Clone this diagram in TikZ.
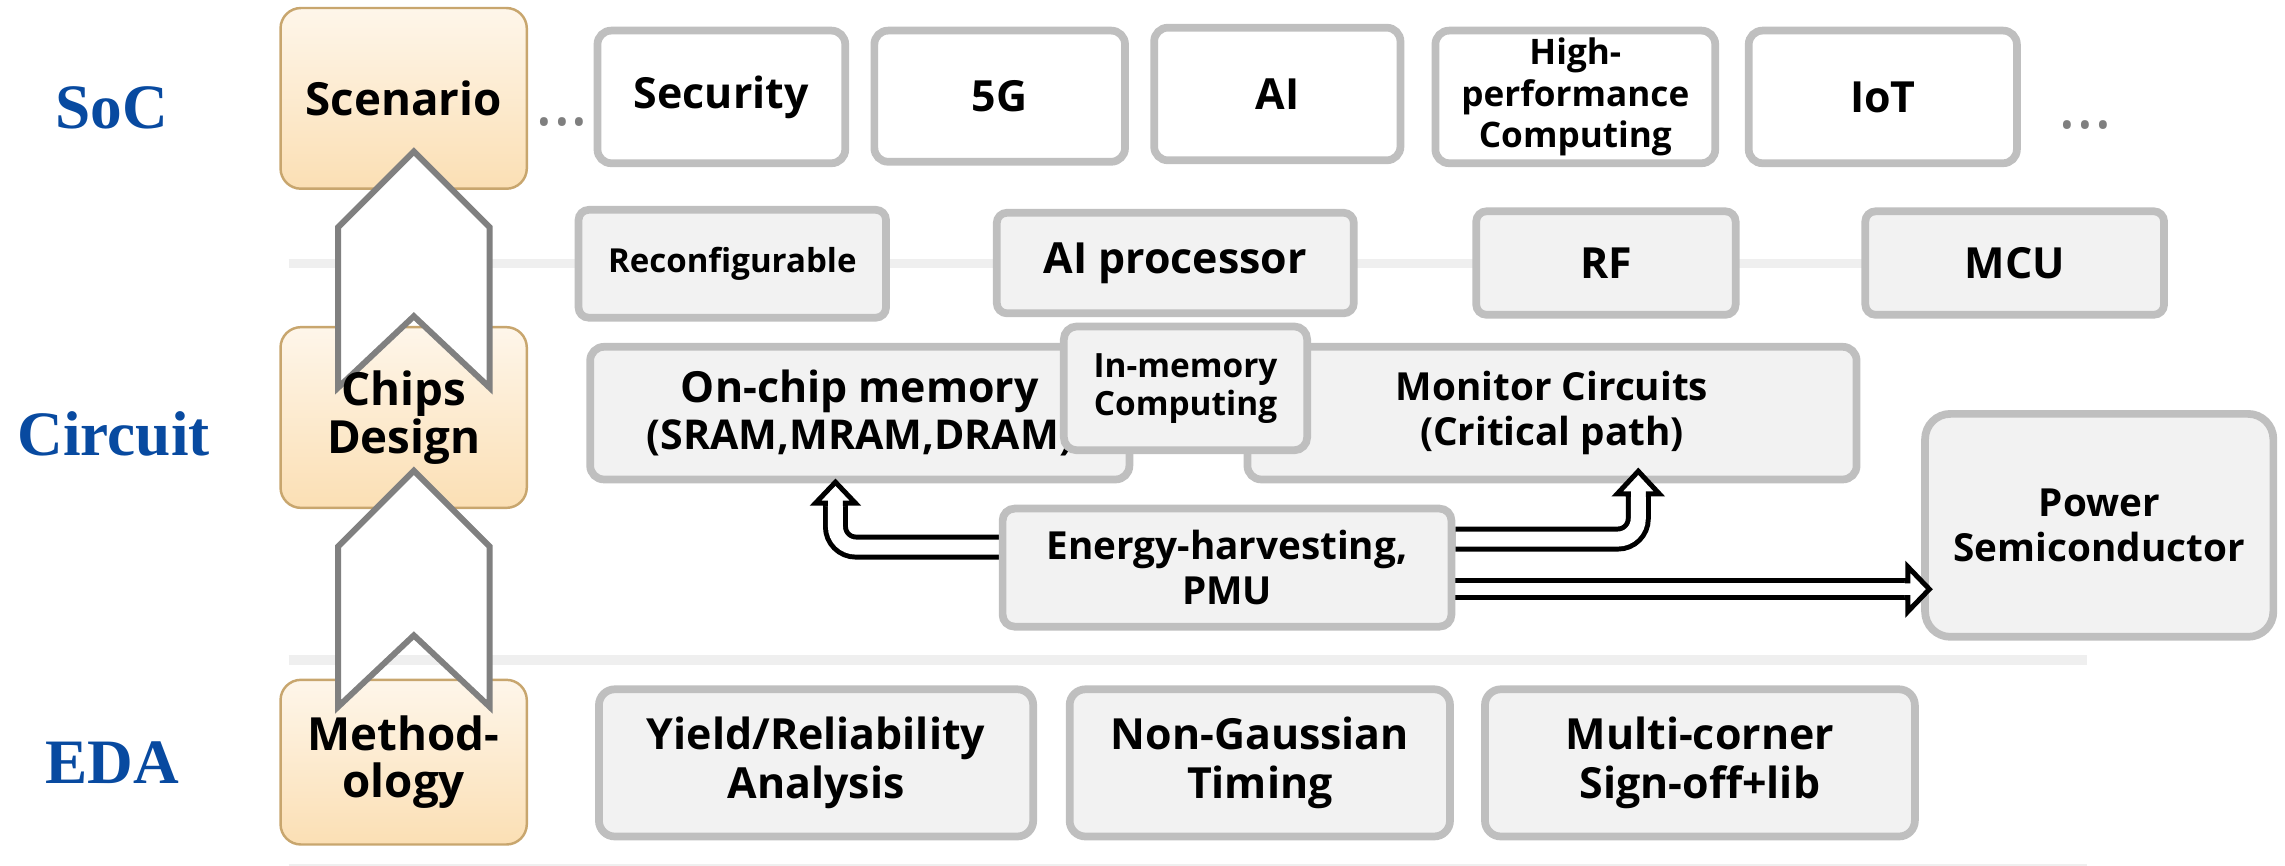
\documentclass[tikz,border=0pt]{standalone}
\usepackage{fontspec}
\setmainfont{Open Sans}
\newfontfamily\serifbold{Liberation Serif}
\usetikzlibrary{fit,calc}
\definecolor{boxgray}{HTML}{BFBFBF}
\definecolor{boxfill}{HTML}{F2F2F2}
\definecolor{sepgray}{HTML}{EFEFEF}
\definecolor{arrgray}{HTML}{808080}
\definecolor{orTop}{HTML}{FEF6EA}
\definecolor{orBot}{HTML}{FBDFB4}
\definecolor{orEdge}{HTML}{C8A66E}
\definecolor{lblblue}{RGB}{8,74,160}
\definecolor{dotgray}{HTML}{7F7F7F}
\pgfdeclarelayer{top}
\pgfsetlayers{main,top}
\tikzset{
  sepline/.style={draw=sepgray, line width=#1},
  obox/.style={draw=orEdge, line width=0.7pt, top color=orTop, bottom color=orBot, rounded corners=5.8pt, inner sep=0pt},
  chev/.style={draw=arrgray, fill=white, line width=1.7pt, line join=miter},
  gbox/.style={draw=boxgray, line width=2.2pt, fill=boxfill, inner sep=0pt},
  fora/.style={font=\fontsize{13}{13.3}\selectfont\bfseries, align=center},
  fbig/.style={font=\fontsize{12.2}{13.3}\selectfont\bfseries, align=center},
  frow/.style={font=\fontsize{12.2}{14.2}\selectfont\bfseries, align=center},
  fmid/.style={font=\fontsize{11}{12.7}\selectfont\bfseries, align=center},
  fhpc/.style={font=\fontsize{10}{11.8}\selectfont\bfseries, align=center},
  frec/.style={font=\fontsize{9.4}{11}\selectfont\bfseries, align=center},
  fimc/.style={font=\fontsize{9.5}{10.8}\selectfont\bfseries, align=center},
  fmem/.style={font=\fontsize{11.7}{13.3}\selectfont\bfseries, align=center},
  fpow/.style={font=\fontsize{11}{13}\selectfont\bfseries, align=center},
  lbl/.style={font=\fontsize{18}{20}\selectfont\serifbold\bfseries, text=lblblue, inner sep=0pt},
  shaft/.style={draw=black, line width=1.41pt, double=white, double distance=#1, rounded corners=5.8pt},
  hollow/.style={draw=black, fill=white, line width=1.41pt, line join=miter},
  pics/hhead/.style n args={3}{code={\draw[hollow] (-2,#1) -- (0,#1) -- (0,#2) -- (#3,0) -- (0,-#2) -- (0,-#1) -- (-2,-#1);}},
  dotsnode/.style={font=\fontsize{19}{20}\selectfont, text=dotgray, inner sep=0pt}
}
\begin{document}
\begin{tikzpicture}[x=0.014573cm,y=-0.014573cm]
\useasboundingbox (0,0) rectangle (1568,594);

% separator lines
\draw[sepline=2.5pt] (198,181) -- (1432,181);
\draw[sepline=2.9pt] (198,453) -- (1432,453);
\draw[sepline=2.5pt] (198,596) -- (1432,596);

% layer labels
\node[lbl] (socL) at (76.5,74) {SoC};
\node[lbl] (cirL) at (78,298) {Circuit};
\node[lbl] (edaL) at (77,523.5) {EDA};

% orange boxes
\node[obox, fit={(192.5,5.5) (361.5,129.5)}] (scen) {};
\node[obox, fit={(192.5,224.5) (361.5,348.5)}] (chips) {};
\node[obox, fit={(192.5,466.5) (361.5,579.5)}] (meth) {};

% chevron arrows
\draw[chev] (284,104) -- (336,156) -- (336,266) -- (284,217) -- (232,266) -- (232,156) -- cycle;
\draw[chev] (284,323) -- (336,375) -- (336,485) -- (284,436) -- (232,485) -- (232,375) -- cycle;

\node[fora] (scenT) at (scen) {Scenario};
\node[fora, font=\fontsize{13}{13.5}\selectfont\bfseries] (chipsT) at (chips) {Chips\\Design};
\node[fora, font=\fontsize{13}{13.5}\selectfont\bfseries] (methT) at (meth) {Method-\\ology};

% dots
\node[dotsnode] (dotsL) at (385.6,83.5) {...};
\node[dotsnode] (dotsR) at (1431,86) {...};

% row 1: scenarios
\node[gbox, fill=white, rounded corners=3.9pt, fit={(410,21) (580,112)}, label={[fbig]center:Security}] (sec) {};
\node[gbox, fill=white, rounded corners=3.9pt, fit={(600,21) (772,111)}, label={[fbig]center:5G}] (g5) {};
\node[gbox, fill=white, rounded corners=3.9pt, fit={(792,19) (961,110)}, label={[fbig]center:AI}] (ai) {};
\node[gbox, fill=white, rounded corners=3.9pt, fit={(985,21) (1177,112)}, label={[fhpc]center:{High-\\performance\\Computing}}] (hpc) {};
\node[gbox, fill=white, rounded corners=3.9pt, fit={(1200,21) (1384,112)}, label={[fbig]center:IoT}] (iot) {};

% row 2: chips
\node[gbox, rounded corners=2.9pt, fit={(397,144) (608,218)}, label={[frec]center:Reconfigurable}] (rec) {};
\node[gbox, rounded corners=2.9pt, fit={(684,146) (929,215)}, label={[fbig]center:AI processor}] (aip) {};
\node[gbox, rounded corners=2.9pt, fit={(1013,145) (1191,216)}, label={[fbig]center:RF}] (rf) {};
\node[gbox, rounded corners=2.9pt, fit={(1280,145) (1485,216)}, label={[fbig]center:MCU}] (mcu) {};

% row 3: circuits
\node[gbox, rounded corners=3.9pt, fit={(405,238) (775,329)}, label={[fmem]center:{{\fontsize{12.2}{13.3}\selectfont On-chip memory}\\(SRAM,MRAM,DRAM)}}] (mem) {};
\node[gbox, rounded corners=3.9pt, fit={(856,238) (1274,329)}, label={[fmid]center:{Monitor Circuits\\(Critical path)}}] (mon) {};
\node[gbox, rounded corners=3.7pt, fit={(730,224) (897,309)}, label={[fimc]center:{In-memory\\Computing}}] (imc) {};
\node[gbox, rounded corners=7.2pt, fit={(1321,284) (1560,437)}, label={[fpow]center:{Power\\Semiconductor}}] (pow) {};
\begin{pgfonlayer}{top}
\node[gbox, rounded corners=3.4pt, fit={(688,349) (996,430)}, label={[fmid]center:{Energy-harvesting,\\PMU}}] (eng) {};
\end{pgfonlayer}

% row 4: EDA
\node[gbox, rounded corners=4.5pt, fit={(411,473) (709,574)}, label={[frow]center:{Yield/Reliability\\Analysis}}] (yld) {};
\node[gbox, rounded corners=4.5pt, fit={(734,473) (995,574)}, label={[frow]center:{Non-Gaussian\\Timing}}] (ngt) {};
\node[gbox, rounded corners=4.5pt, fit={(1019,473) (1314,574)}, label={[frow]center:{Multi-corner\\Sign-off+lib}}] (mco) {};

% hollow connectors from Energy-harvesting
\coordinate (a1s) at ($(eng.west)+(0,-14.1)$);
\coordinate (a1b) at ($(mem.south)+(-16.7,13.6)$);
\coordinate (a2s) at ($(eng.east)+(0,-19.6)$);
\coordinate (a2b) at ($(mon.south)+(59.2,7.3)$);
\coordinate (a3s) at ($(eng.east)+(0,14.8)$);
\coordinate (a3b) at ($(a3s -| pow.west)+(-9.2,0)$);

\draw[shaft=4.27pt] (a1s) -| (a1b);
\pic[rotate=90] at (a1b) {hhead={6.85}{13.7}{14.4}};
\draw[shaft=4.27pt] (a2s) -| (a2b);
\pic[rotate=90] at (a2b) {hhead={6.85}{14.5}{15.6}};
\draw[shaft=3.36pt] (a3s) -- (a3b);
\pic at (a3b) {hhead={5.75}{15.4}{14.8}};
\end{tikzpicture}
\end{document}
